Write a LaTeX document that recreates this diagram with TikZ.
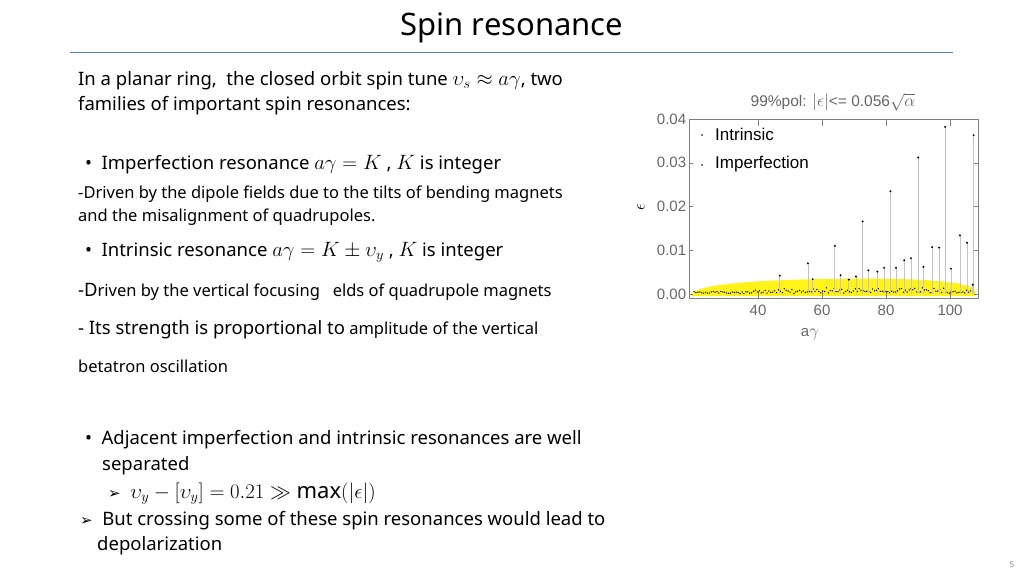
\documentclass[tikz,border=0pt]{standalone}
\usepackage{fontspec}
\setmainfont{Noto Sans}
\newfontfamily\symfont{DejaVu Sans}
\newfontfamily\plotfont{Liberation Sans}
\newcommand\mm[2][22]{{\fontsize{#1}{#1}\selectfont$#2$}}
\definecolor{rulecol}{RGB}{84,130,180}
\tikzset{
  txt/.style={anchor=west,inner sep=0pt,font=\fontsize{18.5}{20}\selectfont},
  smalltxt/.style={anchor=west,inner sep=0pt,font=\fontsize{16.5}{18}\selectfont},
  ticklab/.style={inner sep=0pt,text=black!60,font=\plotfont\fontsize{15}{16}\selectfont},
  stem/.style={draw=blue!20!gray!40,line width=0.8pt}
}
\begin{document}
\begin{tikzpicture}[x=1pt,y=-1pt]
\useasboundingbox (0,0) rectangle (1024,576);
%title
\node[inner sep=0pt,font=\fontsize{31}{33}\selectfont] (title) at (512,28) {Spin resonance};
\draw[rulecol,line width=0.8pt] (70,52) -- (953,52);
%text
\node[txt] (l1) at (78,81) {In a planar ring,\ \ the closed orbit spin tune \mm{\upsilon_s\approx a\gamma}, two};
\node[txt] (l2) at (78,106) {families of important spin resonances:};
\node[txt] (b1) at (80,165) {\ \textbullet\ \ Imperfection resonance \mm{a\gamma=K} , \mm{K} is integer};
\node[smalltxt] (l3) at (78,194) {-Driven by the dipole fields due to the tilts of bending magnets};
\node[smalltxt] (l4) at (78,217) {and the misalignment of quadrupoles.};
\node[txt] (b2) at (80,252) {\ \textbullet\ \ Intrinsic resonance \mm{a\gamma=K\pm\upsilon_y} , \mm{K} is integer};
\node[smalltxt] (l5) at (78,292) {{\fontsize{18.5}{20}\selectfont -D}riven by the vertical focusing\ \ \ elds of quadrupole magnets};
\node[smalltxt] (l6) at (78,330) {{\fontsize{18.5}{20}\selectfont - Its strength is proportional to} amplitude of the vertical};
\node[smalltxt] (l7) at (78,366) {betatron oscillation};
\node[txt] (b3) at (80,440) {\ \textbullet\ \ Adjacent imperfection and intrinsic resonances are well};
\node[txt] (l8) at (102,466) {separated};
\node[txt] (l9) at (108,494) {{\symfont\fontsize{15}{16}\selectfont ➢}\ \ \mm{\upsilon_y-\bigl[\upsilon_y\bigr]=0.21\gg\mathrm{max}(|\epsilon|)}};
\node[txt] (l10) at (80,521) {{\symfont\fontsize{15}{16}\selectfont ➢}\ \ But crossing some of these spin resonances would lead to};
\node[txt] (l11) at (97,546) {depolarization};
\node[inner sep=0pt,text=black!50,font=\fontsize{8}{9}\selectfont] (pg) at (1012,565) {5};
%plot
\node[ticklab,font=\plotfont\fontsize{15.5}{17}\selectfont] (ptitle) at (833,102) {99\%pol: \mm[17]{|\epsilon|}<= 0.056\mm[17]{\sqrt{\alpha}}};
\node[ticklab,text=black,rotate=90] (eps) at (641,207) {\mm[17]{\epsilon}};
\node[ticklab] (alab) at (810,334) {a\mm[17]{\gamma}};
\begin{scope}[xshift=630pt,yshift=-294pt,x=3.2pt,y=4.375pt]
%yellow band
\fill[yellow!90!white] (19,-0.5) .. controls (19,2.6) and (45,3.4) .. (70,3.5)
  .. controls (95,3.6) and (108,2.6) .. (108,0.5) -- (108,-0.5) -- cycle;
%frame and ticks
\draw[black!50] (18.4,-0.9) rectangle (108.7,40);
\foreach \e/\lab in {0/0.00,10/0.01,20/0.02,30/0.03,40/0.04}{
  \draw[black!50] (18.4,\e) -- ++(1.2,0);
  \draw[black!50] (108.7,\e) -- ++(-1.2,0);
  \node[ticklab,anchor=east] at (17.6,\e) {\lab};
}
\foreach \a in {40,60,80,100}{
  \draw[black!50] (\a,-0.9) -- ++(0,1.5);
  \draw[black!50] (\a,40) -- ++(0,-1.5);
  \node[ticklab,anchor=north] at (\a,-2.4) {\a};
}
%small resonances
\pgfmathsetseed{7}
\foreach \a in {20,20.6,...,107}{
  \pgfmathsetmacro\v{0.1+0.5*rnd+(\a>38)*1.4*rnd*rnd}
  \fill (\a,\v) circle[radius=0.75pt];
}
%strong intrinsic resonances
\foreach \a/\v in {46.8/4.2,55.6/7.0,57.1/3.4,64/11.0,65.8/4.3,68.4/3.3,70.6/4.0,
  72.7/16.6,74.5/5.4,77.3/5.1,79.4/6.0,81.4/23.5,83.1/6.0,85.7/7.7,87.8/8.2,
  90.1/31.2,91.7/6.2,94.4/10.7,96.6/10.6,98.5/38.2,100.3/5.8,103.1/13.4,
  105.3/11.7,107.4/36.3,107.1/2.1}{
  \draw[stem] (\a,0) -- (\a,\v);
  \fill (\a,\v) circle[radius=1.1pt];
}
\end{scope}
%legend
\fill (702,135) circle[radius=0.9pt];
\fill (702,165) circle[radius=0.9pt];
\node[anchor=west,inner sep=0pt,font=\plotfont\fontsize{17}{18}\selectfont] (leg1) at (715,134) {Intrinsic};
\node[anchor=west,inner sep=0pt,font=\plotfont\fontsize{17}{18}\selectfont] (leg2) at (715,164) {Imperfection};
\end{tikzpicture}
\end{document}
